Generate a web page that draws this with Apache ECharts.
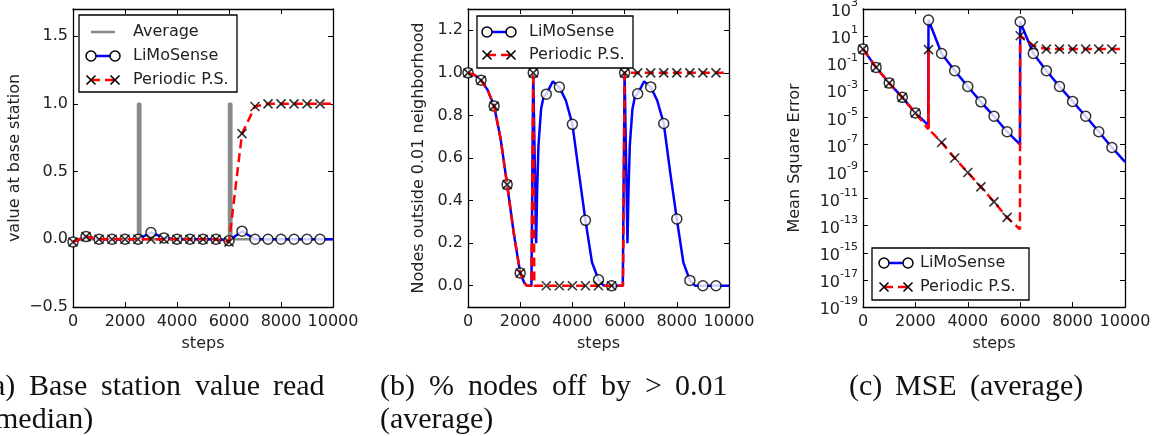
<!DOCTYPE html>
<html>
<head>
<meta charset="utf-8">
<title>LiMoSense vs Periodic P.S.</title>
<script src="https://cdn.jsdelivr.net/npm/echarts@6.0.0/dist/echarts.min.js"></script>
<style>
  html, body { margin: 0; padding: 0; background: #fff; }
  #chart { width: 1153px; height: 436px; }
</style>
</head>
<body>
<div id="chart"></div>
<script>
// steps where markers are drawn
const markSteps = [0, 500, 1000, 1500, 2000, 2500, 3000, 3500, 4000, 4500, 5000, 5500, 6000, 6500, 7000, 7500, 8000, 8500, 9000, 9500];

// (a) value at base station (median)
const aAverage = [[0, 0], [2500, 0], [2500, 1], [2590, 1], [2590, 0], [6000, 0], [6000, 1], [6090, 1], [6090, 0], [10000, 0]];
const aLimoMarks = [-0.02, 0.02, 0, 0, 0, 0, 0.05, 0.01, 0, 0, 0, 0, -0.01, 0.06, 0, 0, 0, 0, 0, 0];
const aLimoLine = [[0, -0.02], [500, 0.02], [1000, 0], [1500, 0], [2000, 0], [2500, 0], [3000, 0.05], [3500, 0.01], [4000, 0], [4500, 0], [5000, 0], [5500, 0], [6000, -0.01], [6500, 0.06], [7000, 0], [7500, 0], [8000, 0], [8500, 0], [9000, 0], [9500, 0], [10000, 0]];
const aPerMarks = [-0.02, 0.02, 0, 0, 0, 0, 0, 0, 0, 0, 0, 0, -0.02, 0.78, 0.98, 1, 1, 1, 1, 1];
const aPerLine = [[0, -0.02], [500, 0.02], [1000, 0], [1500, 0], [2000, 0], [2500, 0], [3000, 0], [3500, 0], [4000, 0], [4500, 0], [5000, 0], [5500, 0], [6000, -0.02], [6500, 0.78], [7000, 0.98], [7500, 1], [8000, 1], [8500, 1], [9000, 1], [9500, 1], [10000, 1]];
const aTicks = [-0.5, 0, 0.5, 1.0, 1.5];

// (b) nodes outside 0.01 neighborhood (average)
const bLimoMarks = [1.0, 0.965, 0.844, 0.475, 0.06, 1.0, 0.9, 0.933, 0.758, 0.307, 0.028, 0, 1.0, 0.902, 0.934, 0.762, 0.314, 0.025, 0, 0];
const bLimoLine = [[0, 1.0], [250, 0.99], [500, 0.965], [750, 0.92], [1000, 0.844], [1250, 0.69], [1500, 0.475], [1750, 0.25], [2000, 0.06], [2150, 0.015], [2250, 0], [2430, 0], [2500, 1.0], [2610, 0.2], [2650, 0.45], [2700, 0.66], [2800, 0.83], [2900, 0.89], [3000, 0.9], [3250, 0.96], [3500, 0.933], [3750, 0.87], [4000, 0.758], [4250, 0.53], [4500, 0.307], [4750, 0.11], [5000, 0.028], [5200, 0], [5930, 0], [6000, 1.0], [6110, 0.2], [6150, 0.45], [6200, 0.66], [6300, 0.83], [6400, 0.89], [6500, 0.902], [6750, 0.96], [7000, 0.934], [7250, 0.87], [7500, 0.762], [7750, 0.53], [8000, 0.314], [8250, 0.11], [8500, 0.025], [8700, 0], [10000, 0]];
const bPerMarks = [1.0, 0.965, 0.844, 0.475, 0.06, 1.0, 0, 0, 0, 0, 0, 0, 1.0, 1.0, 1.0, 1.0, 1.0, 1.0, 1.0, 1.0];
const bPerLine = [[0, 1.0], [250, 0.99], [500, 0.965], [750, 0.92], [1000, 0.844], [1250, 0.69], [1500, 0.475], [1750, 0.25], [2000, 0.06], [2150, 0.015], [2250, 0], [2430, 0], [2500, 1.0], [2540, 0], [5940, 0], [6000, 1.0], [10000, 1.0]];
const bTicks = [0, 0.2, 0.4, 0.6, 0.8, 1.0, 1.2];

// (c) mean square error (average), log scale
const cLimoMarks = [1.1, 0.049, 3.4e-3, 3.0e-4, 2.1e-5, 155, 0.52, 0.028, 1.9e-3, 1.4e-4, 1.2e-5, 8.7e-7, 115, 0.52, 0.028, 1.9e-3, 1.5e-4, 1.2e-5, 8.7e-7, 6.0e-8];
const cLimoLine = [[0, 1.1], [500, 0.049], [1000, 3.4e-3], [1500, 3.0e-4], [2000, 2.1e-5], [2490, 2.7e-6], [2500, 155], [3000, 0.52], [3500, 0.028], [4000, 1.9e-3], [4500, 1.4e-4], [5000, 1.2e-5], [5500, 8.7e-7], [5990, 1.0e-7], [6000, 115], [6500, 0.52], [7000, 0.028], [7500, 1.9e-3], [8000, 1.5e-4], [8500, 1.2e-5], [9000, 8.7e-7], [9500, 6.0e-8], [10000, 5.2e-9]];
const cPerMarks = [1.1, 0.049, 3.4e-3, 3.0e-4, 2.1e-5, 1.0, 1.4e-7, 1.0e-8, 8.5e-10, 7.4e-11, 5.8e-12, 4.1e-13, 10.7, 1.95, 1.1, 1.1, 1.1, 1.1, 1.1, 1.1];
const cPerLine = [[0, 1.1], [500, 0.049], [1000, 3.4e-3], [1500, 3.0e-4], [2000, 2.1e-5], [2490, 1.35e-6], [2500, 1.0], [2510, 1.35e-6], [3000, 1.4e-7], [3500, 1.0e-8], [4000, 8.5e-10], [4500, 7.4e-11], [5000, 5.8e-12], [5500, 4.1e-13], [5990, 5.5e-14], [6000, 10.7], [6500, 1.95], [7000, 1.1], [10000, 1.1]];
const cTicks = [1e-19, 1e-17, 1e-15, 1e-13, 1e-11, 1e-9, 1e-7, 1e-5, 1e-3, 1e-1, 1e1, 1e3];

const FONT = 'DejaVu Sans';
const INK = '#222';
const BLUE = '#0000ff';
const RED = '#ff0000';
const GRAY = '#8a8a8a';
const X_PATH = 'path://M0,0L10,10M10,0L0,10';

// plot areas in pixels
const grids = [
  { left: 73, top: 9, width: 260, height: 298 },
  { left: 468, top: 9, width: 261, height: 298 },
  { left: 863, top: 9, width: 262, height: 298 }
];

const chart = echarts.init(document.getElementById('chart'), null, { renderer: 'canvas' });

const tickStyle = { inside: true, length: 5, lineStyle: { color: '#000', width: 1 } };
const lineStyleBox = { show: true, onZero: false, lineStyle: { color: '#000', width: 1.3 } };

function xAxisPair(i) {
  const base = { type: 'value', gridIndex: i, min: 0, max: 10000, interval: 2000, splitLine: { show: false } };
  return [
    Object.assign({}, base, {
      position: 'bottom',
      name: 'steps', nameLocation: 'middle', nameGap: 29,
      nameTextStyle: { fontFamily: FONT, fontSize: 16, color: INK },
      axisLine: lineStyleBox, axisTick: tickStyle,
      axisLabel: { fontFamily: FONT, fontSize: 16, color: INK, margin: 7, showMaxLabel: true, formatter: v => String(v) }
    }),
    Object.assign({}, base, {
      position: 'top', axisLine: lineStyleBox, axisTick: tickStyle, axisLabel: { show: false }
    })
  ];
}

function yAxisPair(i, opts) {
  const base = { gridIndex: i, type: opts.type, min: opts.min, max: opts.max, splitLine: { show: false } };
  if (opts.type === 'log') base.logBase = 10;
  return [
    Object.assign({}, base, {
      position: 'left',
      name: opts.name, nameLocation: 'middle', nameGap: opts.nameGap,
      nameTextStyle: { fontFamily: FONT, fontSize: 16, color: INK },
      axisLine: lineStyleBox,
      axisTick: Object.assign({ customValues: opts.ticks }, tickStyle),
      axisLabel: Object.assign({ customValues: opts.ticks, fontFamily: FONT, fontSize: 16, color: INK, margin: 5, formatter: opts.fmt }, opts.labelExtra || {})
    }),
    Object.assign({}, base, {
      position: 'right', axisLine: lineStyleBox,
      axisTick: Object.assign({ customValues: opts.ticks }, tickStyle),
      axisLabel: { show: false }
    })
  ];
}

const xa = [xAxisPair(0), xAxisPair(1), xAxisPair(2)];
const ya = [
  yAxisPair(0, {
    type: 'value', min: -0.5, max: 1.7, ticks: aTicks, name: 'value at base station', nameGap: 50,
    fmt: v => (v < 0 ? '\u2212' + Math.abs(v).toFixed(1) : v.toFixed(1))
  }),
  yAxisPair(1, {
    type: 'value', min: -0.1, max: 1.3, ticks: bTicks, name: 'Nodes outside 0.01 neighborhood', nameGap: 41,
    fmt: v => v.toFixed(1)
  }),
  yAxisPair(2, {
    type: 'log', min: 1e-19, max: 1e3, ticks: cTicks, name: 'Mean Square Error', nameGap: 60,
    fmt: v => {
      const e = Math.round(Math.log10(v));
      return '{b|10}{s|' + (e < 0 ? '-' + (-e) : e) + '}';
    },
    labelExtra: {
      rich: {
        b: { fontFamily: FONT, fontSize: 16, color: INK, lineHeight: 22, verticalAlign: 'bottom' },
        s: { fontFamily: FONT, fontSize: 11, color: INK, lineHeight: 12, verticalAlign: 'top' }
      }
    }
  })
];

const xAxes = xa.map(p => p[0]).concat(xa.map(p => p[1]));
const yAxes = ya.map(p => p[0]).concat(ya.map(p => p[1]));

function lineSeries(name, g, data, color, dashed, z) {
  return {
    type: 'line', name: name, xAxisIndex: g, yAxisIndex: g, data: data,
    symbol: 'none', showSymbol: false, silent: true, z: z,
    lineStyle: { color: color, width: 2.5, type: dashed ? [9, 5] : 'solid', cap: 'butt' }
  };
}

function markSeries(name, g, values, kind, z) {
  const circle = kind === 'o';
  return {
    type: 'scatter', name: name, xAxisIndex: g, yAxisIndex: g,
    data: markSteps.map((s, i) => [s, values[i]]),
    symbol: circle ? 'circle' : X_PATH,
    symbolSize: circle ? 10 : 9,
    silent: true, z: z,
    itemStyle: circle
      ? { color: '#fff', borderColor: '#000', borderWidth: 1.5 }
      : { color: 'rgba(0,0,0,0)', borderColor: '#000', borderWidth: 1.6 }
  };
}

const series = [
  lineSeries('Average', 0, aAverage, GRAY, false, 2),
  lineSeries('LiMoSense', 0, aLimoLine, BLUE, false, 3),
  markSeries('LiMoSense', 0, aLimoMarks, 'o', 4),
  lineSeries('Periodic P.S.', 0, aPerLine, RED, true, 5),
  markSeries('Periodic P.S.', 0, aPerMarks, 'x', 6),

  lineSeries('LiMoSense', 1, bLimoLine, BLUE, false, 3),
  markSeries('LiMoSense', 1, bLimoMarks, 'o', 4),
  lineSeries('Periodic P.S.', 1, bPerLine, RED, true, 5),
  markSeries('Periodic P.S.', 1, bPerMarks, 'x', 6),

  lineSeries('LiMoSense', 2, cLimoLine, BLUE, false, 3),
  markSeries('LiMoSense', 2, cLimoMarks, 'o', 4),
  lineSeries('Periodic P.S.', 2, cPerLine, RED, true, 5),
  markSeries('Periodic P.S.', 2, cPerMarks, 'x', 6)
];

// matplotlib-style legend boxes, drawn as graphics
function legendGraphics(box, sx1, sx2, tx, rows) {
  const els = [{
    type: 'rect', z: 100,
    shape: { x: box.x, y: box.y, width: box.w, height: box.h },
    style: { fill: '#fff', stroke: '#000', lineWidth: 1.3 }
  }];
  rows.forEach(r => {
    if (r.kind === 'avg') {
      els.push({ type: 'line', z: 101, shape: { x1: sx1, y1: r.cy, x2: sx2, y2: r.cy }, style: { stroke: GRAY, lineWidth: 2.5 } });
    } else if (r.kind === 'limo') {
      els.push({ type: 'line', z: 101, shape: { x1: sx1, y1: r.cy, x2: sx2, y2: r.cy }, style: { stroke: BLUE, lineWidth: 2.5 } });
      [sx1, sx2].forEach(cx => els.push({ type: 'circle', z: 102, shape: { cx: cx, cy: r.cy, r: 5 }, style: { fill: '#fff', stroke: '#000', lineWidth: 1.5 } }));
    } else {
      els.push({ type: 'line', z: 101, shape: { x1: sx1, y1: r.cy, x2: sx2, y2: r.cy }, style: { stroke: RED, lineWidth: 2.5, lineDash: [9, 5] } });
      [sx1, sx2].forEach(cx => {
        els.push({ type: 'line', z: 102, shape: { x1: cx - 4.5, y1: r.cy - 4.5, x2: cx + 4.5, y2: r.cy + 4.5 }, style: { stroke: '#000', lineWidth: 1.6 } });
        els.push({ type: 'line', z: 102, shape: { x1: cx - 4.5, y1: r.cy + 4.5, x2: cx + 4.5, y2: r.cy - 4.5 }, style: { stroke: '#000', lineWidth: 1.6 } });
      });
    }
    els.push({ type: 'text', z: 102, x: tx, y: r.cy, style: { text: r.text, fontFamily: FONT, fontSize: 16, fill: INK, verticalAlign: 'middle' } });
  });
  return els;
}

// sub-figure captions (LaTeX style, justified words)
const captionWords = [
  ['(a)', -18, 387], ['Base', 29, 387], ['station', 101, 387], ['value', 195, 387], ['read', 273, 387],
  ['(median)', -15, 420],
  ['(b)', 380, 387], ['%', 429, 387], ['nodes', 468, 387], ['off', 552, 387], ['by', 601, 387], ['>', 645, 387], ['0.01', 675, 387],
  ['(average)', 380, 420],
  ['(c)', 849, 387], ['MSE', 895, 387], ['(average)', 970, 387]
];

const graphics = []
  .concat(legendGraphics({ x: 79, y: 15, w: 158, h: 77 }, 91, 115, 133, [
    { kind: 'avg', cy: 32, text: 'Average' },
    { kind: 'limo', cy: 56, text: 'LiMoSense' },
    { kind: 'per', cy: 80, text: 'Periodic P.S.' }
  ]))
  .concat(legendGraphics({ x: 477, y: 16, w: 156, h: 52 }, 487, 511, 529, [
    { kind: 'limo', cy: 32, text: 'LiMoSense' },
    { kind: 'per', cy: 55, text: 'Periodic P.S.' }
  ]))
  .concat(legendGraphics({ x: 872, y: 248, w: 157, h: 52 }, 884, 908, 920, [
    { kind: 'limo', cy: 263, text: 'LiMoSense' },
    { kind: 'per', cy: 287, text: 'Periodic P.S.' }
  ]))
  .concat(captionWords.map(w => ({
    type: 'text', z: 100, x: w[1], y: w[2],
    style: { text: w[0], fontFamily: 'Liberation Serif', fontSize: 30, fill: '#111', verticalAlign: 'middle' }
  })));

const option = {
  backgroundColor: '#fff',
  animation: false,
  grid: grids.map(g => Object.assign({ outerBoundsMode: 'none', containLabel: false }, g)),
  xAxis: xAxes,
  yAxis: yAxes,
  series: series,
  graphic: { elements: graphics }
};

chart.setOption(option);
</script>
</body>
</html>
